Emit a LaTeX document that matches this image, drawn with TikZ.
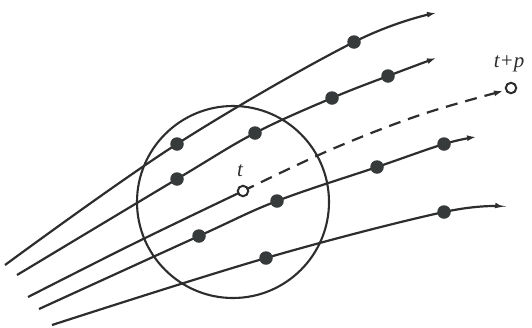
\documentclass[tikz,border=0pt]{standalone}
\usepackage{fontspec}
\setmainfont{Liberation Serif}
\usetikzlibrary{arrows.meta}
\definecolor{ink}{RGB}{45,45,45}
\definecolor{dotc}{RGB}{55,58,58}
\begin{document}
\begin{tikzpicture}[x=1pt,y=-1pt,
  traj/.style={draw=ink, line width=2.2pt, -{Latex[length=9pt,width=6pt]}},
  dot/.style={circle, fill=dotc, inner sep=0pt, minimum size=13.5pt},
  opendot/.style={circle, draw=ink, fill=white, line width=2pt, inner sep=0pt, minimum size=10.5pt},
  lbl/.style={font=\itshape\fontsize{21}{21}\selectfont, text=ink, inner sep=0pt}]
\useasboundingbox (0,0) rectangle (532,327);
% circle
\node[circle, draw=ink, line width=2.1pt, minimum size=192pt, inner sep=0pt] (zone) at (233,202) {};
% curve 1
\coordinate (A0) at (5,265); \coordinate (A1) at (177,144); \coordinate (A2) at (354,42); \coordinate (A3) at (436,13);
\draw[traj] plot[smooth, tension=0.6] coordinates {(A0) (A1) (A2) (A3)};
% curve 2
\coordinate (B0) at (17,275); \coordinate (B1) at (177,179); \coordinate (B2) at (255,133); \coordinate (B3) at (332,98); \coordinate (B4) at (388,76); \coordinate (B5) at (436,58);
\draw[traj] plot[smooth, tension=0.6] coordinates {(B0) (B1) (B2) (B3) (B4) (B5)};
% curve 3
\coordinate (C0) at (28,297); \coordinate (C1) at (135,243); \coordinate (C2) at (243,191);
\coordinate (C3) at (330,150); \coordinate (C4) at (420,115); \coordinate (C5) at (503,91);
\draw[ink, line width=2.2pt] plot[smooth, tension=0.6] coordinates {(C0) (C1) (C2)};
\draw[traj, dash pattern=on 12pt off 8pt] plot[smooth, tension=0.6] coordinates {(C2) (C3) (C4) (C5)};
% curve 4
\coordinate (D0) at (39,309); \coordinate (D1) at (199,236); \coordinate (D2) at (277,201); \coordinate (D3) at (377,167); \coordinate (D4) at (444,144); \coordinate (D5) at (476,137);
\draw[traj] plot[smooth, tension=0.6] coordinates {(D0) (D1) (D2) (D3) (D4) (D5)};
% curve 5
\coordinate (E0) at (52,325); \coordinate (E1) at (266,258); \coordinate (E2) at (444,212); \coordinate (E3) at (504,207);
\draw[traj] plot[smooth, tension=0.6] coordinates {(E0) (E1) (E2) (E3)};
% dots
\node[dot] (a1) at (A1) {}; \node[dot] (a2) at (A2) {};
\node[dot] (b1) at (B1) {}; \node[dot] (b2) at (B2) {}; \node[dot] (b3) at (B3) {}; \node[dot] (b4) at (B4) {};
\node[dot] (d1) at (D1) {}; \node[dot] (d2) at (D2) {}; \node[dot] (d3) at (D3) {}; \node[dot] (d4) at (D4) {};
\node[dot] (e1) at (E1) {}; \node[dot] (e2) at (E2) {};
\node[opendot] (t) at (C2) {};
\node[opendot] (tp) at (511,88) {};
% labels
\node[lbl] (tlbl) at (240,171) {t};
\node[lbl] (tplbl) at (509,64) {t+p};
\end{tikzpicture}
\end{document}
